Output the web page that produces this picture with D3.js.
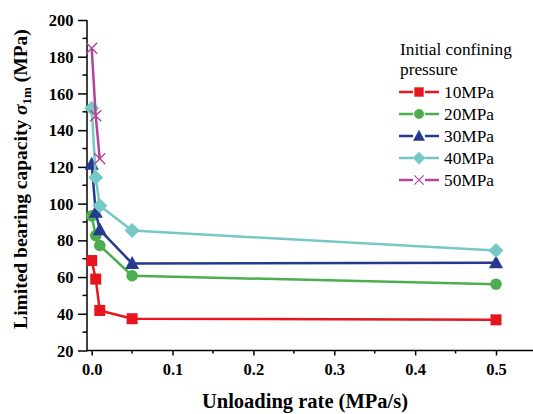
<!DOCTYPE html>
<html>
<head>
<meta charset="utf-8">
<script src="https://cdn.jsdelivr.net/npm/d3@7/dist/d3.min.js"></script>
<style>
  html, body { margin: 0; padding: 0; background: #fff; }
  svg { display: block; }
  svg text { font-family: "Liberation Serif", "Times New Roman", serif !important; }
</style>
</head>
<body>
<svg id="chart" width="533" height="414"></svg>
<script>
// Unloading rates (MPa/s)
const rates = [0, 0.005, 0.01, 0.05, 0.5];

// Limited bearing capacity (MPa) per initial confining pressure
const s10 = [69.0, 58.9, 41.8, 37.3, 36.7];
const s20 = [93.3, 82.6, 77.2, 60.7, 56.1];
const s30 = [121.5, 95.3, 85.7, 67.4, 67.8];
const s40 = [152.0, 114.2, 98.8, 85.3, 74.4];
const s50 = [184.6, 147.8, 124.4];

const seriesNames = ["10MPa", "20MPa", "30MPa", "40MPa", "50MPa"];
const xTicks = [0, 0.1, 0.2, 0.3, 0.4, 0.5];
const yTicks = [20, 40, 60, 80, 100, 120, 140, 160, 180, 200];

const series = [
  { name: seriesNames[0], values: s10, color: "#e5161d", symbol: "square" },
  { name: seriesNames[1], values: s20, color: "#4dae4f", symbol: "circle" },
  { name: seriesNames[2], values: s30, color: "#25398f", symbol: "triangle" },
  { name: seriesNames[3], values: s40, color: "#75c9c5", symbol: "diamond" },
  { name: seriesNames[4], values: s50, color: "#b3449b", symbol: "cross" }
];

const svg = d3.select("#chart");

const x0 = 87;           // left edge of the plot (y axis position)
const x = d3.scaleLinear().domain([0, 0.5]).range([91.7, 496]);
const y = d3.scaleLinear().domain([20, 200]).range([350.5, 20]);
const xRight = 533;

// Axis lines
svg.append("line").attr("x1", x0).attr("x2", xRight)
  .attr("y1", y(20)).attr("y2", y(20)).attr("stroke", "#000").attr("stroke-width", 1.5);
svg.append("line").attr("x1", x0).attr("x2", x0)
  .attr("y1", y(20) + 0.75).attr("y2", y(200)).attr("stroke", "#000").attr("stroke-width", 1.5);

// X axis ticks and labels
const xMinor = d3.range(0.05, 0.55, 0.1);
const gx = svg.append("g").attr("transform", `translate(0,${y(20)})`);
gx.call(d3.axisBottom(x).tickValues(xTicks).tickFormat(d3.format(".1f")).tickSize(5).tickSizeOuter(0))
  .call(g => g.select(".domain").remove());
gx.attr("font-family", null);
gx.selectAll(".tick line").attr("stroke-width", 1.5);
gx.selectAll(".tick text").attr("font-weight", "bold")
  .attr("font-size", 16.5).attr("fill", "#000").attr("y", 24).attr("dy", 0);
gx.selectAll(".minor").data(xMinor).enter().append("line")
  .attr("x1", d => x(d)).attr("x2", d => x(d)).attr("y1", 0).attr("y2", 3)
  .attr("stroke", "#000").attr("stroke-width", 1.5);

// Y axis ticks and labels
const yMinor = d3.range(30, 200, 20);
const gy = svg.append("g").attr("transform", `translate(${x0},0)`);
gy.call(d3.axisLeft(y).tickValues(yTicks).tickFormat(d3.format("d")).tickSize(9).tickSizeOuter(0))
  .call(g => g.select(".domain").remove());
gy.attr("font-family", null);
gy.selectAll(".tick line").attr("stroke-width", 1.5);
gy.selectAll(".tick text").attr("font-weight", "bold")
  .attr("font-size", 16.5).attr("fill", "#000").attr("x", -13.5).attr("dy", "0.34em");
gy.selectAll(".minor").data(yMinor).enter().append("line")
  .attr("x1", -4.5).attr("x2", 0).attr("y1", d => y(d)).attr("y2", d => y(d))
  .attr("stroke", "#000").attr("stroke-width", 1.5);

// Axis titles
svg.append("text").attr("x", 305).attr("y", 408).attr("text-anchor", "middle")
  .attr("font-weight", "bold").attr("font-size", 20.5)
  .text("Unloading rate (MPa/s)");

const yt = svg.append("text").attr("transform", "translate(27,179) rotate(-90)")
  .attr("text-anchor", "middle").attr("font-weight", "bold")
  .attr("font-size", 19.5);
yt.append("tspan").text("Limited bearing capacity ");
yt.append("tspan").attr("font-style", "italic").text("σ");
yt.append("tspan").attr("font-size", 13).attr("dy", 4).text("1m");
yt.append("tspan").attr("dy", -4).text(" (MPa)");

// Marker drawing
function drawMarker(g, type, color) {
  if (type === "square") {
    g.append("rect").attr("x", -5.5).attr("y", -5.5).attr("width", 11).attr("height", 11).attr("fill", color);
  } else if (type === "circle") {
    g.append("circle").attr("r", 5.8).attr("fill", color);
  } else if (type === "triangle") {
    g.append("path").attr("d", "M0,-7.5 L7,5.5 L-7,5.5 Z").attr("fill", color);
  } else if (type === "diamond") {
    g.append("path").attr("d", "M0,-7.5 L7.5,0 L0,7.5 L-7.5,0 Z").attr("fill", color);
  } else if (type === "cross") {
    g.append("path").attr("d", "M-5.5,-5.5 L5.5,5.5 M-5.5,5.5 L5.5,-5.5").attr("stroke", color)
      .attr("stroke-width", 1.4).attr("fill", "none");
  }
}

const line = d3.line().x(d => x(d[0])).y(d => y(d[1]));

series.forEach(s => {
  const pts = s.values.map((v, i) => [rates[i], v]);
  svg.append("path").datum(pts).attr("d", line).attr("fill", "none")
    .attr("stroke", s.color).attr("stroke-width", 2.5);
  pts.forEach(p => {
    const g = svg.append("g").attr("transform", `translate(${x(p[0])},${y(p[1])})`);
    drawMarker(g, s.symbol, s.color);
  });
});

// Legend
const legend = svg.append("g");
legend.append("text").attr("x", 400).attr("y", 55).attr("font-size", 17.3).text("Initial confining");
legend.append("text").attr("x", 400).attr("y", 75).attr("font-size", 17.3).text("pressure");
series.forEach((s, i) => {
  const cy = 92 + i * 22;
  legend.append("line").attr("x1", 399).attr("x2", 439).attr("y1", cy).attr("y2", cy)
    .attr("stroke", s.color).attr("stroke-width", 2.5);
  const g = legend.append("g").attr("transform", `translate(419,${cy}) scale(0.85)`);
  g.append("rect").attr("x", -7).attr("y", -7).attr("width", 14).attr("height", 14).attr("fill", "#fff");
  drawMarker(g, s.symbol, s.color);
  legend.append("text").attr("x", 444).attr("y", cy + 5.5).attr("font-size", 17.3).text(s.name);
});
</script>
</body>
</html>
